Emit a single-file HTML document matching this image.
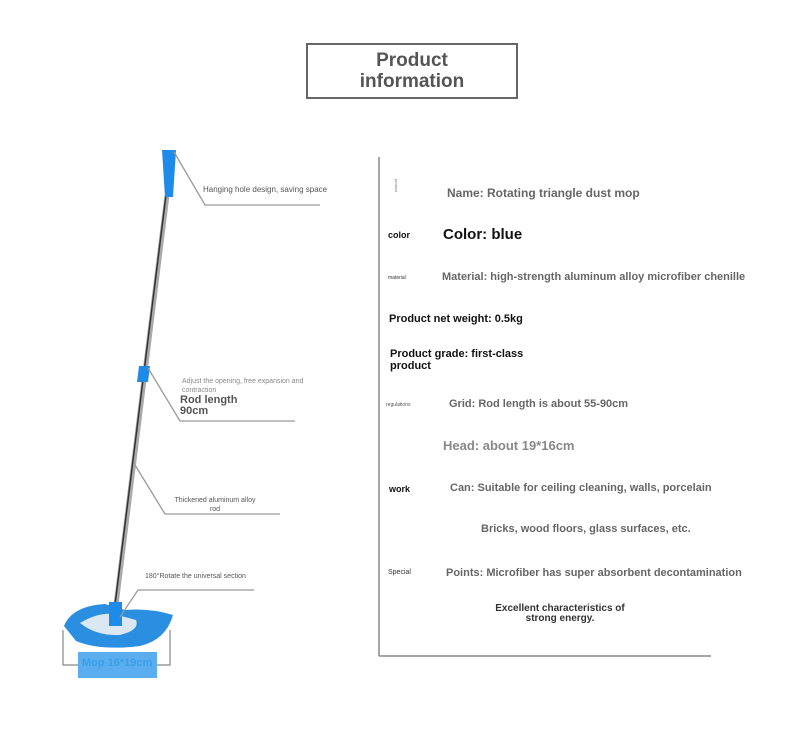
<!DOCTYPE html>
<html><head><meta charset="utf-8"><style>
body{margin:0;width:790px;height:743px;background:#fff;position:relative;overflow:hidden;font-family:"Liberation Sans","DejaVu Sans",sans-serif}
.a{position:absolute;white-space:nowrap}
.g{color:#666;font-weight:bold}
.k{color:#111;font-weight:bold}
</style></head><body>
<div class="a" style="left:306px;top:43px;width:208px;height:52px;border:2px solid #666"></div>
<div class="a" style="left:306px;top:50px;width:212px;text-align:center;font-size:19px;line-height:21px;font-weight:bold;color:#555">Product<br>information</div>

<svg class="a" style="left:0;top:0" width="790" height="743">
<line x1="379" y1="157" x2="379" y2="656" stroke="#888" stroke-width="1.5"/>
<line x1="379" y1="656" x2="711" y2="656" stroke="#888" stroke-width="1.5"/>
<line x1="167" y1="195" x2="116" y2="605" stroke="#aaa" stroke-width="5"/>
<line x1="166" y1="195" x2="115" y2="605" stroke="#333" stroke-width="1.5"/>
<polygon points="162,150 176,150 173,197 165,197" fill="#1f8be8"/>
<polygon points="139,366 150,366 148,382 137,382" fill="#1f8be8"/>
<path d="M64,626 Q72,606 105,604 L125,610 Q150,608 173,615 Q166,640 140,646 Q100,651 76,641 Z" fill="#2a8fe0"/>
<path d="M80,623 Q98,612 114,614 L136,620 Q140,630 120,635 Q96,636 80,623Z" fill="#dbe7f3"/>
<rect x="109" y="602" width="13" height="24" fill="#1f8be8"/>
<polyline points="63,630 63,665 170,665 170,630" fill="none" stroke="#888" stroke-width="1.2"/>
<rect x="78" y="652" width="79" height="26" fill="#5aaef0"/>
<g stroke="#999" stroke-width="1.3" fill="none">
<polyline points="174,152 205,205 320,205"/>
<polyline points="148,368 180,421 295,421"/>
<polyline points="135,465 165,514 280,514"/>
<polyline points="120,617 138,590 254,590"/>
</g>
</svg>

<div class="a" style="left:203px;top:185px;font-size:8px;color:#555">Hanging hole design, saving space</div>
<div class="a" style="left:182px;top:377px;font-size:7px;line-height:9px;color:#888">Adjust the opening, free expansion and<br>contraction</div>
<div class="a" style="left:180px;top:395px;font-size:11px;line-height:11px;font-weight:bold;color:#555">Rod length<br>90cm</div>
<div class="a" style="left:165px;top:496px;width:100px;text-align:center;font-size:7px;line-height:9px;color:#555">Thickened aluminum alloy<br>rod</div>
<div class="a" style="left:145px;top:573px;font-size:7px;color:#555">180°Rotate the universal section</div>
<div class="a" style="left:82px;top:657px;font-size:11px;font-weight:bold;color:#3a9ee8">Mop 16*19cm</div>

<div class="a" style="left:390px;top:183px;font-size:4px;color:#777;transform:rotate(90deg)">product</div>
<div class="a g" style="left:447px;top:186px;font-size:12px">Name: Rotating triangle dust mop</div>
<div class="a k" style="left:388px;top:230px;font-size:9px">color</div>
<div class="a k" style="left:443px;top:226px;font-size:15px">Color: blue</div>
<div class="a" style="left:388px;top:275px;font-size:5px;color:#333">material</div>
<div class="a g" style="left:442px;top:271px;font-size:11px">Material: high-strength aluminum alloy microfiber chenille</div>
<div class="a k" style="left:389px;top:313px;font-size:11px">Product net weight: 0.5kg</div>
<div class="a k" style="left:390px;top:348px;font-size:11px;line-height:12px">Product grade: first-class<br>product</div>
<div class="a" style="left:386px;top:402px;font-size:5px;color:#555">regulations</div>
<div class="a g" style="left:449px;top:398px;font-size:11px">Grid: Rod length is about 55-90cm</div>
<div class="a" style="left:443px;top:438px;font-size:13px;color:#888;font-weight:bold">Head: about 19*16cm</div>
<div class="a k" style="left:389px;top:484px;font-size:9px">work</div>
<div class="a g" style="left:450px;top:482px;font-size:11px">Can: Suitable for ceiling cleaning, walls, porcelain</div>
<div class="a g" style="left:481px;top:523px;font-size:11px">Bricks, wood floors, glass surfaces, etc.</div>
<div class="a" style="left:388px;top:569px;font-size:7px;color:#333">Special</div>
<div class="a g" style="left:446px;top:567px;font-size:11px">Points: Microfiber has super absorbent decontamination</div>
<div class="a k" style="left:490px;top:604px;width:140px;text-align:center;font-size:10px;line-height:10px;color:#333">Excellent characteristics of<br>strong energy.</div>
</body></html>
